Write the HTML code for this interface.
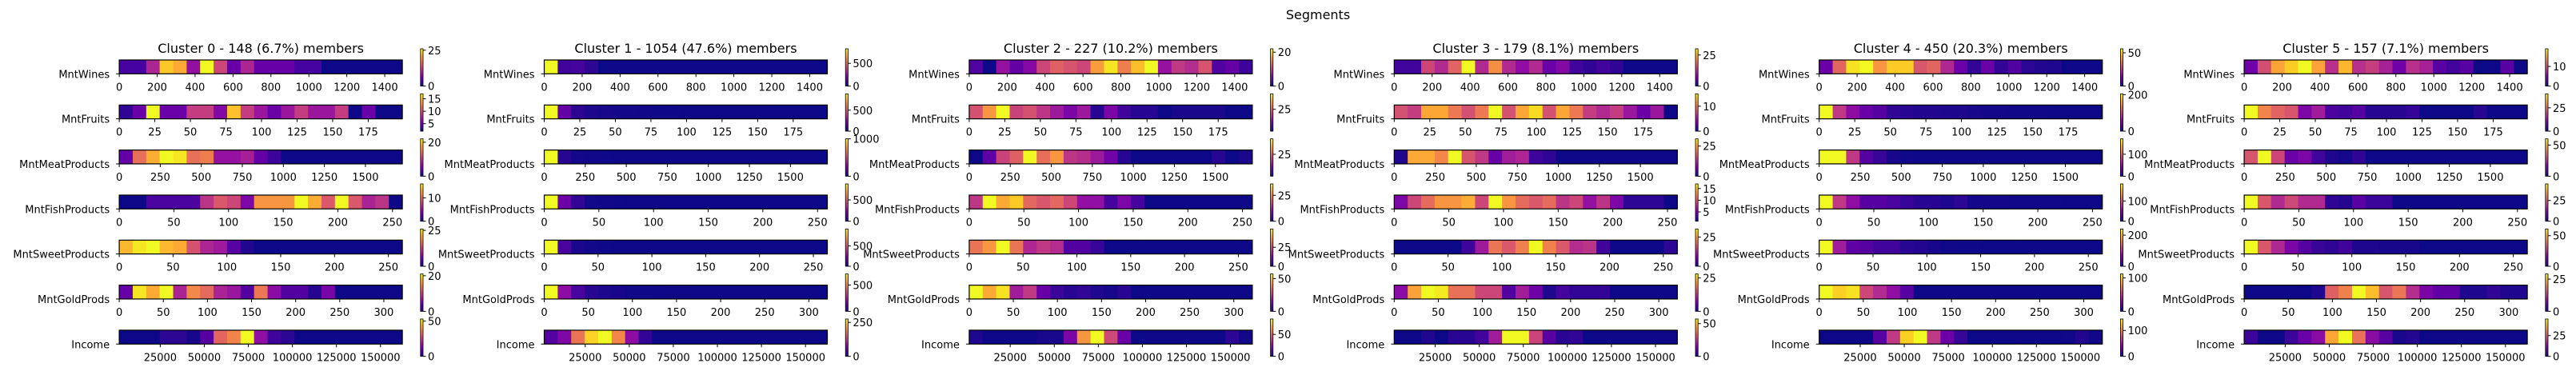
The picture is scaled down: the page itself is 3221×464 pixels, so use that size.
<!DOCTYPE html>
<html><head><meta charset="utf-8"><style>
html,body{margin:0;padding:0;background:#fff;}
svg{display:block;font-family:"DejaVu Sans","Liberation Sans",sans-serif;}
</style></head><body>
<svg id="chart" width="3221" height="464" viewBox="0 0 3221 464" xmlns="http://www.w3.org/2000/svg">
<defs>
<linearGradient id="plasmaV" x1="0" y1="1" x2="0" y2="0">
<stop offset="0" stop-color="#0d0887"/><stop offset="0.1" stop-color="#41049d"/><stop offset="0.2" stop-color="#6a00a8"/><stop offset="0.3" stop-color="#8f0da4"/><stop offset="0.4" stop-color="#b12a90"/><stop offset="0.5" stop-color="#cc4778"/><stop offset="0.6" stop-color="#e16462"/><stop offset="0.7" stop-color="#f2844b"/><stop offset="0.8" stop-color="#fca636"/><stop offset="0.9" stop-color="#fcce25"/><stop offset="1" stop-color="#f0f921"/>
</linearGradient>
</defs>
<text x="1648" y="24" text-anchor="middle" font-size="16">Segments</text>
</svg>
<script>
const clusterTitles = ["Cluster 0 - 148 (6.7%) members","Cluster 1 - 1054 (47.6%) members","Cluster 2 - 227 (10.2%) members","Cluster 3 - 179 (8.1%) members","Cluster 4 - 450 (20.3%) members","Cluster 5 - 157 (7.1%) members"];
const features = ["MntWines","MntFruits","MntMeatProducts","MntFishProducts","MntSweetProducts","MntGoldProds","Income"];
const featureMin = [0,0,0,0,0,0,1730];
const featureMax = [1493,199,1725,259,263,321,162397];
const xTicks = [
 [0,200,400,600,800,1000,1200,1400],
 [0,25,50,75,100,125,150,175],
 [0,250,500,750,1000,1250,1500],
 [0,50,100,150,200,250],
 [0,50,100,150,200,250],
 [0,50,100,150,200,250,300],
 [25000,50000,75000,100000,125000,150000]
];
const cluster0 = [
 [3,3,10,23,21,8,26,13,5,10,5,5,5,3,3,0,0,0,0,0,0],
 [3,5,17,5,5,9,9,6,15,9,7,5,7,9,7,7,9,2,5,2,2],
 [4,14,18,22,21,14,15,7,7,8,4,2,0,0,0,0,0,0,0,0,0],
 [0,0,2,2,2,2,7,9,8,4,12,12,12,16,13,9,16,9,6,7,0],
 [22,25,26,22,21,14,10,9,4,1,0,0,0,0,0,0,0,0,0,0,0],
 [4,20,17,21,8,15,13,8,7,3,14,6,3,3,1,5,0,0,0,0,0],
 [0,0,0,3,3,1,8,32,37,53,16,5,3,0,0,0,0,0,0,0,0]
];
const cluster1 = [
 [820,80,90,50,0,0,0,0,0,0,0,0,0,0,0,0,0,0,0,0,0],
 [890,170,50,25,15,10,8,5,4,3,2,2,1,1,1,1,0,0,0,0,0],
 [1000,50,15,5,3,2,1,1,0,0,0,0,0,0,0,0,0,0,0,0,0],
 [875,180,60,10,5,3,2,1,1,0,0,0,0,0,0,0,0,0,0,0,0],
 [920,110,25,8,4,2,1,1,0,0,0,0,0,0,0,0,0,0,0,0,0],
 [710,210,85,35,20,15,5,3,2,1,1,0,0,0,0,0,0,0,0,0,0],
 [40,70,180,250,275,195,80,20,0,0,0,0,0,0,0,0,0,0,0,0,0]
];
const cluster2 = [
 [3,0,7,4,6,11,13,12,11,17,21,15,19,22,7,10,9,12,3,4,2],
 [23,32,42,21,23,19,15,11,15,3,11,5,3,3,1,2,2,2,2,1,1],
 [1,8,21,25,42,27,32,19,18,15,10,3,1,1,1,1,1,1,3,1,2],
 [16,36,29,32,22,20,22,18,11,11,4,9,4,0,0,0,0,0,0,0,0],
 [32,37,49,32,19,22,20,7,7,4,0,0,0,0,0,0,0,0,0,0,0],
 [57,46,54,20,26,11,5,3,4,2,1,3,0,0,0,0,0,0,0,0,0],
 [3,0,0,0,0,2,2,21,64,85,43,17,0,0,0,0,0,0,0,5,1]
];
const cluster3 = [
 [3,3,15,12,18,30,12,22,12,9,12,6,8,3,2,3,2,0,0,0,0],
 [8,7,12,12,10,8,10,15,8,12,14,8,12,10,7,6,7,5,3,5,0],
 [1,25,25,22,31,17,14,6,11,12,3,2,0,0,0,0,0,0,0,0,0],
 [5,9,11,13,13,14,9,17,13,11,10,11,8,9,6,8,5,2,2,2,1],
 [0,0,0,0,0,3,11,21,18,22,32,22,18,13,14,3,0,0,0,0,2],
 [8,22,28,27,18,18,14,14,4,10,6,1,3,2,2,2,0,0,0,0,0],
 [0,0,2,0,3,3,6,20,57,57,28,9,3,4,0,0,0,0,0,0,0]
];
const cluster4 = [
 [11,34,53,56,42,50,50,31,34,22,11,4,11,4,8,3,2,2,0,0,0],
 [205,92,60,40,30,14,10,8,8,6,6,4,2,2,1,1,1,0,0,0,0],
 [170,170,76,25,14,3,1,0,0,0,0,0,0,0,0,0,0,0,0,0,0],
 [184,83,55,28,28,22,15,9,9,6,11,3,2,2,1,1,1,1,0,0,0],
 [240,84,41,36,24,24,12,10,5,2,1,1,0,0,0,0,0,0,0,0,0],
 [112,101,106,56,45,34,17,0,0,0,0,0,0,0,0,0,0,0,0,0,0],
 [0,0,0,0,22,65,130,144,65,29,12,0,0,0,0,0,0,0,1,6,1]
];
const cluster5 = [
 [4,10,15,17,19,15,8,16,8,9,7,4,8,7,3,2,3,0,0,3,0],
 [40,28,24,22,10,14,5,4,6,2,2,2,3,0,0,0,0,2,0,0,0],
 [33,60,30,12,15,6,2,1,4,0,0,0,0,0,0,0,0,0,0,0,0],
 [45,25,18,23,18,18,3,2,7,4,4,0,0,0,0,0,0,0,0,0,0],
 [61,34,24,15,9,5,4,6,2,2,1,1,1,0,0,0,0,0,0,0,0],
 [0,0,0,0,0,1,17,20,29,25,16,19,12,7,5,5,1,1,2,1,1],
 [4,0,0,4,9,13,36,45,29,13,7,1,2,0,0,0,0,0,0,0,0]
];
const clusters = [cluster0,cluster1,cluster2,cluster3,cluster4,cluster5];
const cbarTicks0 = [[0,25],[5,10,15],[0,20],[0,10],[0,25],[0,20],[0,50]];
const cbarTicks1 = [[0,500],[0,500],[0,1000],[0,500],[0,500],[0,500],[0,250]];
const cbarTicks2 = [[0,20],[0,25],[0,25],[0,25],[0,25],[0,50],[0,50]];
const cbarTicks3 = [[0,25],[0,10],[0,25],[5,10,15],[0,25],[0,25],[0,50]];
const cbarTicks4 = [[0,50],[0,200],[0,100],[0,100],[0,200],[0,100],[0,100]];
const cbarTicks5 = [[0,10],[0,25],[0,50],[0,25],[0,50],[0,25],[0,25]];
const cbarTicks = [cbarTicks0,cbarTicks1,cbarTicks2,cbarTicks3,cbarTicks4,cbarTicks5];

const plasma = ["#0d0887","#41049d","#6a00a8","#8f0da4","#b12a90","#cc4778","#e16462","#f2844b","#fca636","#fcce25","#f0f921"];
function hex2rgb(h){return [parseInt(h.substr(1,2),16),parseInt(h.substr(3,2),16),parseInt(h.substr(5,2),16)];}
function cmap(t){
  t=Math.max(0,Math.min(1,t)); const p=t*10; const i=Math.min(9,Math.floor(p)); const f=p-i;
  const a=hex2rgb(plasma[i]), b=hex2rgb(plasma[i+1]);
  return "rgb("+a.map((v,k)=>Math.round(v+(b[k]-v)*f)).join(",")+")";
}
const svg=document.getElementById("chart");
const NS="http://www.w3.org/2000/svg";
function mk(tag,attrs,parent){const e=document.createElementNS(NS,tag);for(const k in attrs)e.setAttribute(k,attrs[k]);(parent||svg).appendChild(e);return e;}

const PX0=149.1, PSTEP=531.4, PW=354, ROW0=75, RSTEP=56.33, RH=17.3, CB_DX=376.7, CB_W=3.2, CB_TOP=61, CB_H=46.7;
const fmt=v=>String(v);

clusters.forEach((cl,ci)=>{
  const x0=PX0+ci*PSTEP;
  const g=mk("g",{});
  
  
  const t=mk("text",{x:x0+PW/2,y:ROW0-9,"text-anchor":"middle","font-size":"16"},g);
  t.textContent=clusterTitles[ci];
  
  
  cl.forEach((counts,fi)=>{
    const y0=ROW0+fi*RSTEP;
    const xmin=featureMin[fi], xmax=featureMax[fi];
    const sx=v=>x0+(v-xmin)/(xmax-xmin)*PW;
    const vmin=Math.min(...counts), vmax=Math.max(...counts);
    const nb=counts.length, bw=(xmax-xmin)/nb;
    const rg=mk("g",{},g);
    
    
    counts.forEach((c,bi)=>{
      const xa=sx(xmin+bi*bw), xb=sx(xmin+(bi+1)*bw);
      const r=mk("rect",{x:xa,y:y0,width:xb-xa+0.4,height:RH,fill:cmap(vmax>vmin?(c-vmin)/(vmax-vmin):0)},rg);
      
      
    });
    const fr=mk("rect",{x:x0,y:y0,width:PW,height:RH,fill:"none",stroke:"#000","stroke-width":"1.2"},rg);
    
    
    mk("line",{x1:x0-4,y1:y0+RH,x2:x0,y2:y0+RH,stroke:"#000","stroke-width":"1"},rg);
    const yl=mk("text",{x:x0-12,y:y0+RH+5,"text-anchor":"end","font-size":"13"},rg);
    yl.textContent=features[fi];
    
    
    xTicks[fi].forEach(tv=>{
      const tx=sx(tv);
      mk("line",{x1:tx,y1:y0+RH,x2:tx,y2:y0+RH+4,stroke:"#000","stroke-width":"1"},rg);
      const tl=mk("text",{x:tx,y:y0+RH+21,"text-anchor":"middle","font-size":"13"},rg);
      tl.textContent=fmt(tv);
      
      
    });
    const cx=x0+CB_DX, cy=CB_TOP+fi*RSTEP;
    const cb=mk("rect",{x:cx,y:cy,width:CB_W,height:CB_H,fill:"url(#plasmaV)",stroke:"#000","stroke-width":"0.8"},g);
    
    
    cbarTicks[ci][fi].forEach(tv=>{
      if(tv<vmin-0.01||tv>vmax+0.01)return;
      const ty=cy+CB_H-(tv-vmin)/(vmax-vmin)*CB_H;
      mk("line",{x1:cx+CB_W,y1:ty,x2:cx+CB_W+3.5,y2:ty,stroke:"#000","stroke-width":"1"},g);
      const cl2=mk("text",{x:cx+CB_W+6,y:ty+5,"font-size":"13"},g);
      cl2.textContent=fmt(tv);
      
      
    });
  });
});
</script>
</body></html>
